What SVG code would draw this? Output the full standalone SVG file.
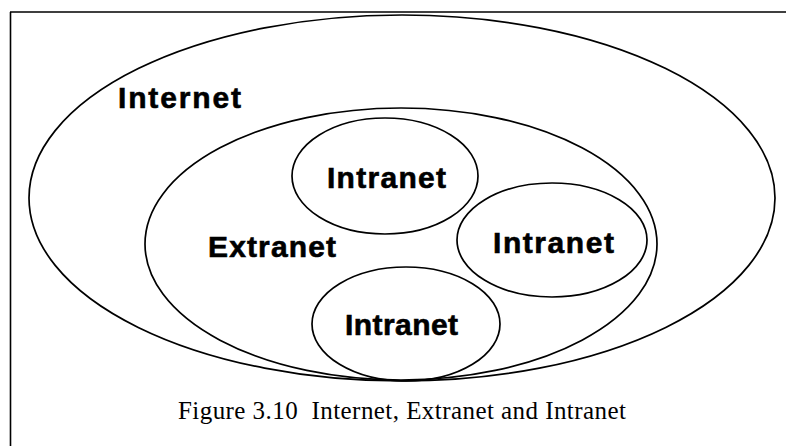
<svg xmlns="http://www.w3.org/2000/svg" width="786" height="446" viewBox="0 0 786 446">
  <style>
    .ring { fill: none; stroke: #000; stroke-width: 1.7; }
    .frame { fill: none; stroke: #000; stroke-width: 1.6; }
    .label { font-family: "Liberation Sans", Arial, sans-serif; font-weight: bold; font-size: 30px; fill: #000; stroke: #000; stroke-width: 0.6; }
    .caption { font-family: "Liberation Serif", "Times New Roman", serif; font-size: 25px; fill: #000; }
  </style>
  <rect width="786" height="446" fill="#fff"/>

  <!-- figure frame: top and left edges -->
  <path class="frame" d="M10,12 H786 M10.5,12 V446"/>

  <g id="internet">
    <ellipse class="ring" cx="402" cy="198" rx="373" ry="183"/>
    <text class="label" x="118" y="108" textLength="123" lengthAdjust="spacing">Internet</text>
  </g>

  <g id="extranet">
    <ellipse class="ring" cx="401" cy="244" rx="256" ry="136"/>
    <text class="label" x="208" y="257" textLength="128" lengthAdjust="spacing">Extranet</text>
  </g>

  <g id="intranet-top">
    <ellipse class="ring" cx="385" cy="176" rx="93" ry="58"/>
    <text class="label" x="327" y="188" textLength="119" lengthAdjust="spacing">Intranet</text>
  </g>

  <g id="intranet-right">
    <ellipse class="ring" cx="552" cy="240" rx="95" ry="57"/>
    <text class="label" x="493" y="253" textLength="121" lengthAdjust="spacing">Intranet</text>
  </g>

  <g id="intranet-bottom">
    <ellipse class="ring" cx="406" cy="324" rx="94" ry="57"/>
    <text class="label" x="345" y="335" textLength="113" lengthAdjust="spacing">Intranet</text>
  </g>

  <g id="connectors"></g>

  <text class="caption" x="178" y="419" textLength="448" lengthAdjust="spacing" xml:space="preserve">Figure 3.10  Internet, Extranet and Intranet</text>
</svg>
